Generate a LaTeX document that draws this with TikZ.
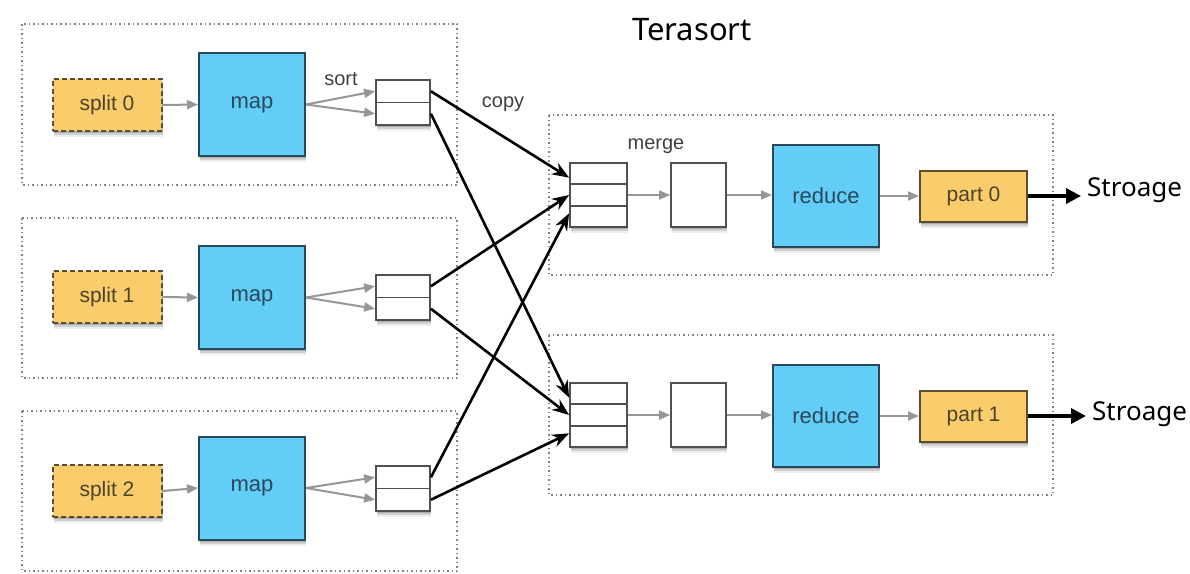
\documentclass[tikz,border=0pt]{standalone}
\usepackage{fontspec}
\setmainfont{Liberation Sans}
\newfontfamily\uifont{Noto Sans}
\usetikzlibrary{arrows.meta,shadows}
\definecolor{yel}{RGB}{249,204,108}
\definecolor{yeledge}{RGB}{92,78,48}
\definecolor{blu}{RGB}{98,205,246}
\definecolor{bluedge}{RGB}{42,72,92}
\definecolor{flowgray}{RGB}{150,150,150}
\definecolor{grpgray}{RGB}{130,130,130}
\definecolor{celledge}{RGB}{80,80,80}
\tikzset{
  shade box/.style={
    drop shadow={shadow xshift=1pt,shadow yshift=-2pt,opacity=0.18,fill=black},
    drop shadow={shadow xshift=1pt,shadow yshift=-4pt,opacity=0.12,fill=black},
    drop shadow={shadow xshift=1pt,shadow yshift=-6pt,opacity=0.07,fill=black}},
  grp/.style={draw=grpgray,line width=1.6pt,dash pattern=on 1.5pt off 3pt},
  splitbox/.style={shade box,draw=yeledge,fill=yel,line width=2pt,dash pattern=on 5pt off 3pt,
    minimum width=109pt,minimum height=52pt,inner sep=0pt,text=yeledge!85!black,font=\fontsize{21}{21}\selectfont},
  partbox/.style={splitbox,solid,minimum width=107pt,minimum height=51pt},
  mapbox/.style={shade box,draw=bluedge,fill=blu,line width=2pt,minimum width=106pt,
    minimum height=103pt,inner sep=0pt,text=bluedge,font=\fontsize{22}{22}\selectfont},
  cell/.style={shade box,draw=celledge,fill=white,line width=1.8pt,minimum width=54pt,
    minimum height=22.5pt,inner sep=0pt},
  mcell/.style={cell,minimum width=57pt,minimum height=21.33pt},
  blank/.style={shade box,draw=celledge,fill=white,line width=1.8pt,minimum width=55pt,
    minimum height=64pt,inner sep=0pt},
  lbl/.style={text=black!75,font=\fontsize{20}{20}\selectfont,inner sep=0pt},
  flow/.style={draw=flowgray,line width=2pt,-{Triangle[length=11pt,width=9pt]}},
  copyarr/.style={draw=black,line width=2.6pt,-{Stealth[length=17pt,width=13pt]}},
  outarr/.style={draw=black,line width=3.5pt,-{Triangle[length=15pt,width=15pt]}},
  big/.style={font=\uifont\fontsize{26}{26}\selectfont,inner sep=0pt,anchor=west},
}
\begin{document}
\begin{tikzpicture}[x=1pt,y=-1pt]
\useasboundingbox[fill=white] (0,0) rectangle (1190,573);

% dotted group frames
\draw[grp] (22,24) rectangle (457,185);
\draw[grp] (22,218) rectangle (457,378);
\draw[grp] (22,411) rectangle (457,571);
\draw[grp] (549,115) rectangle (1053,275);
\draw[grp] (549,335) rectangle (1053,495);

\node[font=\uifont\fontsize{31}{31}\selectfont,inner sep=0pt] (title) at (692,30) {Terasort};

% map side
\foreach \i/\y/\my/\by in {0/105/104.5/80, 1/297/297.5/275, 2/491/488/466}{
  \node[splitbox] (s\i) at (107,\y) {split \i};
  \node[mapbox] (m\i) at (252,\my) {map};
  \node[cell] (b\i a) at (403,\by+11.25) {};
  \node[cell] (b\i b) at (403,\by+33.75) {};
  \draw[flow] (s\i.east) -- (m\i.west);
  \draw[flow] (m\i.east) -- (b\i a.west);
  \draw[flow] (m\i.east) -- (b\i b.west);
}
\node[lbl] (sortlbl) at (341,79) {sort};
\node[lbl] (copylbl) at (503,104) {copy};

% reduce side
\foreach \j/\y in {0/195, 1/415}{
  \node[mcell] (r\j a) at (598.5,\y-21.33) {};
  \node[mcell] (r\j b) at (598.5,\y) {};
  \node[mcell] (r\j c) at (598.5,\y+21.33) {};
  \node[blank] (w\j) at (698.5,\y) {};
  \node[mapbox,minimum height=102pt] (red\j) at (826,\y+1) {reduce};
  \node[partbox] (p\j) at (973.5,\y+1) {part \j};
  \draw[flow] (r\j b.east) -- (w\j.west);
  \draw[flow] (w\j.east) -- (red\j.west |- w\j.east);
  \draw[flow] (red\j.east |- p\j.west) -- (p\j.west);
}
\node[lbl] (mergelbl) at (656,146) {merge};

\node[big] (st0) at (1087,190) {Stroage};
\node[big] (st1) at (1092,414) {Stroage};
\draw[outarr] (p0.east) -- ([xshift=-6pt]st0.west |- p0.east);
\draw[outarr] (p1.east) -- ([xshift=-6pt]st1.west |- p1.east);

% shuffle connections
\draw[copyarr] (b0a.east) -- ([yshift=-4pt]r0a.west);
\draw[copyarr] (b0b.east) -- ([yshift=-4pt]r1a.west);
\draw[copyarr] (b1a.east) -- (r0b.west);
\draw[copyarr] (b1b.east) -- (r1b.west);
\draw[copyarr] (b2a.east) -- ([yshift=3pt]r0c.west);
\draw[copyarr] (b2b.east) -- ([yshift=3pt]r1c.west);
\end{tikzpicture}
\end{document}
